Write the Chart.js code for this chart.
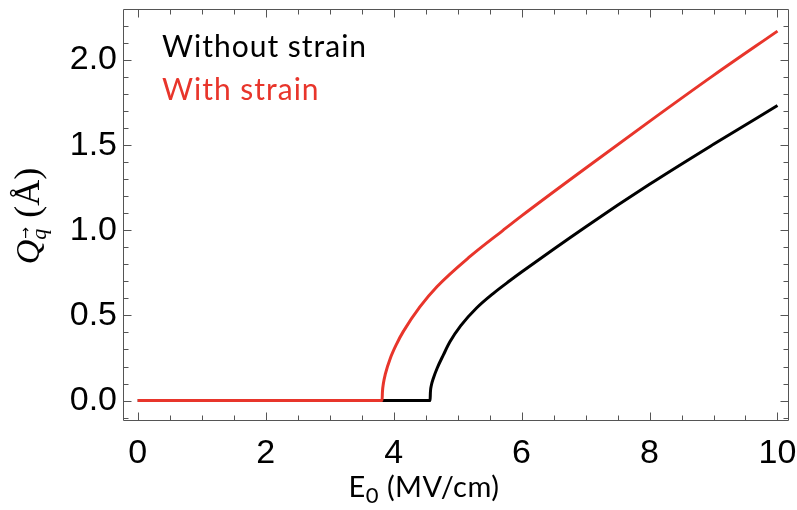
<!DOCTYPE html>
<html>
<head>
<meta charset="utf-8">
<script src="https://cdn.jsdelivr.net/npm/chart.js@4.4.0/dist/chart.umd.min.js"></script>
<style>
  html, body { margin: 0; padding: 0; background: #fff; }
  #wrap { width: 797px; height: 510px; }
</style>
</head>
<body>
<div id="wrap"><canvas id="c"></canvas></div>
<script>
// values (E0 in MV/cm, Q in Angstrom)
const fieldNoStrain = [0, 4.57, 4.575, 4.59, 4.62, 4.68, 4.78, 4.88, 5.05, 5.30, 5.56, 5.82, 6, 7, 8, 9, 10];
const qNoStrain     = [0, 0, 0.05, 0.09, 0.13, 0.19, 0.27, 0.345, 0.44, 0.545, 0.63, 0.705, 0.755, 1.02, 1.27, 1.505, 1.733];
const fieldStrain   = [0, 3.82, 3.825, 3.84, 3.87, 3.95, 4.05, 4.15, 4.41, 4.68, 5.19, 5.71, 6, 7, 8, 9, 10];
const qStrain       = [0, 0, 0.05, 0.10, 0.155, 0.25, 0.335, 0.405, 0.55, 0.67, 0.845, 1.0, 1.085, 1.365, 1.64, 1.91, 2.17];
const seriesNames   = ['Without strain', 'With strain'];
const seriesColors  = ['#000000', '#e8352b'];
const xTickLabels   = [0, 2, 4, 6, 8, 10];
const yTickLabels   = [0.0, 0.5, 1.0, 1.5, 2.0];

// minor tick positions
const xMinor = [];
for (let v = 0; v <= 10.001; v += 0.5) xMinor.push(+v.toFixed(2));
const yMinor = [];
for (let v = -0.1; v <= 2.2001; v += 0.1) yMinor.push(+v.toFixed(2));

const toPts = (xs, ys) => xs.map((x, i) => ({ x: x, y: ys[i] }));

// frame + inward ticks, legend text, axis titles
const framePlugin = {
  id: 'frame',
  afterDatasetsDraw(chart) {
    const { ctx, chartArea: a, scales: { x, y } } = chart;
    ctx.save();
    ctx.strokeStyle = '#555';
    ctx.lineWidth = 1;
    ctx.beginPath();
    const L = Math.round(a.left) + 0.5, R = Math.round(a.right) - 0.5;
    const T = Math.round(a.top) + 0.5, B = Math.round(a.bottom) - 0.5;
    ctx.rect(L, T, R - L, B - T);
    xMinor.forEach(v => {
      const px = Math.round(x.getPixelForValue(v)) + 0.5;
      const len = xTickLabels.includes(v) ? 8 : 5;
      ctx.moveTo(px, B); ctx.lineTo(px, B - len);
      ctx.moveTo(px, T); ctx.lineTo(px, T + len);
    });
    yMinor.forEach(v => {
      const py = Math.round(y.getPixelForValue(v)) + 0.5;
      const len = yTickLabels.some(t => Math.abs(t - v) < 1e-6) ? 8 : 5;
      ctx.moveTo(L, py); ctx.lineTo(L + len, py);
      ctx.moveTo(R, py); ctx.lineTo(R - len, py);
    });
    ctx.stroke();

    // legend lines of text
    ctx.font = '30px Lato';
    ctx.letterSpacing = '1px';
    ctx.textBaseline = 'alphabetic';
    ctx.textAlign = 'left';
    chart.data.datasets.forEach((ds, i) => {
      ctx.fillStyle = ds.borderColor;
      ctx.fillText(ds.label, 162, 57 + i * 43);
    });

    // x title: E with subscript 0
    ctx.fillStyle = '#000';
    ctx.letterSpacing = '0.5px';
    const xt1 = 'E', xt2 = '0', xt3 = ' (MV/cm)';
    ctx.font = '29px Lato'; const w1 = ctx.measureText(xt1).width, w3 = ctx.measureText(xt3).width;
    ctx.font = '22px Lato'; const w2 = ctx.measureText(xt2).width;
    let tx = 424 - (w1 + w2 + w3) / 2;
    const base = 497;
    ctx.font = '29px Lato'; ctx.fillText(xt1, tx, base); tx += w1;
    ctx.font = '22px Lato'; ctx.fillText(xt2, tx, base + 6); tx += w2;
    ctx.font = '29px Lato'; ctx.fillText(xt3, tx, base);
    ctx.letterSpacing = '0px';

    // y title, rotated
    ctx.translate(39, (a.top + a.bottom) / 2 + 2);
    ctx.rotate(-Math.PI / 2);
    ctx.textBaseline = 'alphabetic';
    ctx.textAlign = 'left';
    const big = 'italic 34px "Liberation Serif"';
    const sub = 'italic 22px "Liberation Serif"';
    const reg = '36px "Liberation Serif"';
    ctx.font = big; const wQ = ctx.measureText('Q').width;
    ctx.font = sub; const wq = ctx.measureText('q').width;
    ctx.font = reg; const wA = ctx.measureText(' (\u00c5)').width;
    let cx = -(wQ + wq + wA) / 2;
    ctx.font = big; ctx.fillText('Q', cx, 0); cx += wQ;
    ctx.font = sub; ctx.fillText('q', cx, 7);
    ctx.font = '14px "DejaVu Sans"'; ctx.fillText('\u2192', cx + 1, -9);
    cx += wq + 2;
    ctx.font = reg; ctx.fillText(' (\u00c5)', cx, 0);
    ctx.restore();
  }
};

new Chart(document.getElementById('c'), {
  type: 'line',
  data: {
    datasets: [
      { label: seriesNames[0], data: toPts(fieldNoStrain, qNoStrain), borderColor: seriesColors[0], order: 2 },
      { label: seriesNames[1], data: toPts(fieldStrain, qStrain), borderColor: seriesColors[1], order: 1 }
    ]
  },
  options: {
    responsive: true,
    maintainAspectRatio: false,
    animation: false,
    layout: { padding: { top: 9, right: 8, left: 0, bottom: 0 } },
    elements: {
      point: { radius: 0 },
      line: { borderWidth: 3, fill: false, cubicInterpolationMode: 'monotone' }
    },
    plugins: { legend: { display: false }, tooltip: { enabled: false } },
    scales: {
      x: {
        type: 'linear', min: -0.23, max: 10.18,
        afterBuildTicks: s => { s.ticks = xMinor.map(v => ({ value: v })); },
        afterFit: s => { s.height = 89; s.paddingLeft = 0; s.paddingRight = 0; },
        grid: { display: false, drawTicks: false },
        border: { display: false },
        ticks: {
          autoSkip: false, maxRotation: 0, padding: 12, color: '#000',
          font: { family: '"Liberation Sans"', size: 34 },
          callback: v => xTickLabels.includes(v) ? String(v) : ''
        }
      },
      y: {
        type: 'linear', min: -0.12, max: 2.30,
        afterBuildTicks: s => { s.ticks = yMinor.map(v => ({ value: v })); },
        afterFit: s => { s.width = 123; s.paddingTop = 0; s.paddingBottom = 0; },
        grid: { display: false, drawTicks: false },
        border: { display: false },
        ticks: {
          autoSkip: false, padding: 6, color: '#000',
          font: { family: '"Liberation Sans"', size: 34 },
          callback: v => yTickLabels.some(t => Math.abs(t - v) < 1e-6) ? v.toFixed(1) : ''
        }
      }
    }
  },
  plugins: [framePlugin]
});
</script>
</body>
</html>
